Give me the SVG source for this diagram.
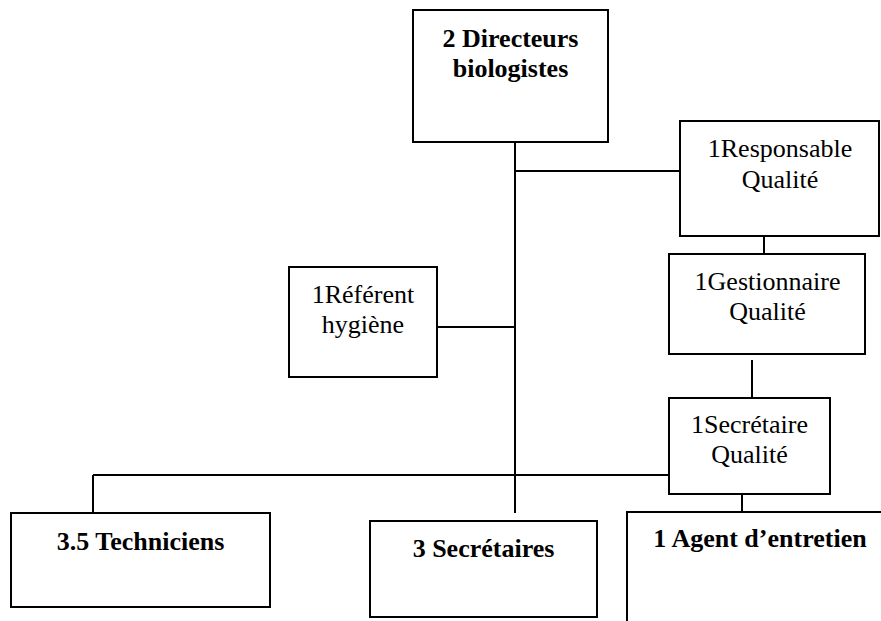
<svg xmlns="http://www.w3.org/2000/svg" width="881" height="621" viewBox="0 0 881 621">
<style>
.box{fill:#fff;stroke:#000;stroke-width:2}
.t{font-family:'Liberation Serif',serif;font-size:26px;fill:#000;text-anchor:middle}
.b{font-weight:bold}
.conn line{stroke:#000;stroke-width:2}
</style>
<rect width="881" height="621" fill="#fff"/>
<g id="connectors" class="conn">
<line x1="515" y1="142" x2="515" y2="513"/>
<line x1="515" y1="171" x2="680" y2="171"/>
<line x1="437" y1="327" x2="515" y2="327"/>
<line x1="764" y1="236" x2="764" y2="254"/>
<line x1="752" y1="360" x2="752" y2="398"/>
<line x1="93" y1="475" x2="669" y2="475"/>
<line x1="93" y1="475" x2="93" y2="513"/>
<line x1="742" y1="494" x2="742" y2="512"/>
</g>
<g id="directeurs">
<rect class="box" x="413" y="10" width="195" height="132"/>
<text class="t b" x="510.5" y="47">2 Directeurs</text>
<text class="t b" x="510.5" y="77">biologistes</text>
</g>
<g id="responsable">
<rect class="box" x="680" y="121" width="199" height="115"/>
<text class="t" x="780" y="157">1Responsable</text>
<text class="t" x="780" y="188">Qualité</text>
</g>
<g id="referent">
<rect class="box" x="289" y="267" width="148" height="110"/>
<text class="t" x="363" y="303">1Référent</text>
<text class="t" x="363" y="333">hygiène</text>
</g>
<g id="gestionnaire">
<rect class="box" x="669" y="254" width="196" height="100"/>
<text class="t" x="767.5" y="290">1Gestionnaire</text>
<text class="t" x="767.5" y="320">Qualité</text>
</g>
<g id="secretaire-qualite">
<rect class="box" x="669" y="398" width="161" height="96"/>
<text class="t" x="749.5" y="433">1Secrétaire</text>
<text class="t" x="749.5" y="463">Qualité</text>
</g>
<g id="techniciens">
<rect class="box" x="11" y="513" width="259" height="94"/>
<text class="t b" x="140.5" y="550">3.5 Techniciens</text>
</g>
<g id="secretaires">
<rect class="box" x="370" y="521" width="227" height="96"/>
<text class="t b" x="483.5" y="557">3 Secrétaires</text>
</g>
<g id="agent">
<rect class="box" x="627" y="512" width="280" height="130"/>
<text class="t b" x="760" y="547">1 Agent d’entretien</text>
</g>
</svg>
